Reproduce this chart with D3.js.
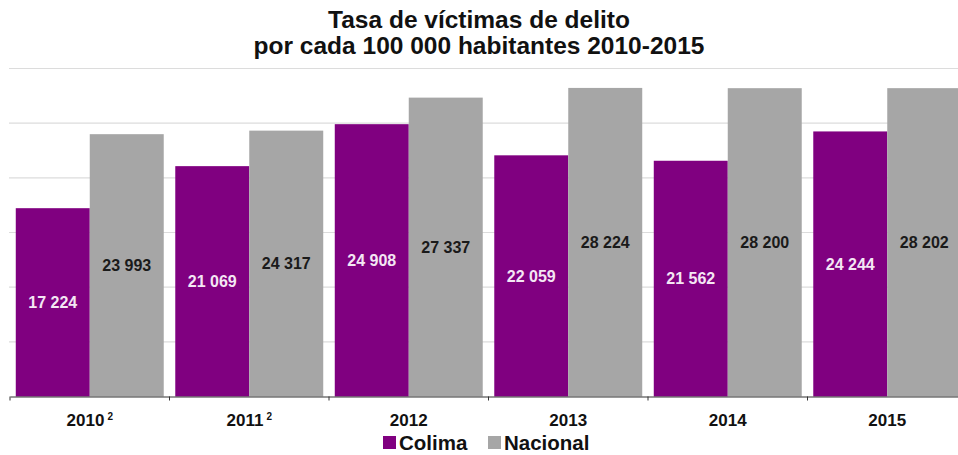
<!DOCTYPE html>
<html>
<head>
<meta charset="utf-8">
<script src="https://cdn.jsdelivr.net/npm/d3@7"></script>
<style>
	body { margin: 0 ; background: #fff ; overflow: hidden ; }
	svg { display: block ; font-family: "Liberation Sans", Arial, sans-serif ; }
</style>
</head>
<body>
<svg id="chart" width="958" height="455"></svg>
<script>

// chart data
const years = [ "2010", "2011", "2012", "2013", "2014", "2015" ] ;
const yearNotes = [ "2", "2", "", "", "", "" ] ;
const series = [ "Colima", "Nacional" ] ;
const colima = [ 17224, 21069, 24908, 22059, 21562, 24244 ] ;
const nacional = [ 23993, 24317, 27337, 28224, 28200, 28202 ] ;
const gridTicks = [ 0, 5000, 10000, 15000, 20000, 25000, 30000 ] ;

const colors = { Colima: "#800080", Nacional: "#a6a6a6" } ;
const labelColors = { Colima: "#f4e6f4", Nacional: "#1a1a1a" } ;

const svg = d3.select( "#chart" ) ;

// plot box - the right edge runs past the window, like the original
const plotLeft = 10, plotRight = 967, plotTop = 68.5, plotBottom = 396.5 ;

const x = d3.scaleBand()
	.domain( years )
	.range( [ plotLeft, plotRight ] )
	.paddingInner( 0 )
	.paddingOuter( 0 ) ;

const xs = d3.scaleBand()
	.domain( series )
	.range( [ 0, x.bandwidth() ] )
	.paddingOuter( 0.078 )
	.paddingInner( 0 ) ;

const y = d3.scaleLinear()
	.domain( [ 0, 30000 ] )
	.range( [ plotBottom, plotTop ] ) ;

// title
const titleLines = [ "Tasa de víctimas de delito", "por cada 100 000 habitantes 2010-2015" ] ;
svg.append( "g" )
	.selectAll( "text" )
	.data( titleLines )
	.enter().append( "text" )
		.attr( "x", 479 ).attr( "y", ( d, i ) => 28 + i * 26 )
		.attr( "text-anchor", "middle" )
		.style( "font-size", "24.5px" ).style( "font-weight", "bold" )
		.attr( "fill", "#111" )
		.text( d => d ) ;

// gridlines
svg.append( "g" )
	.selectAll( "line" )
	.data( gridTicks.filter( d => d > 0 ) )
	.enter().append( "line" )
		.attr( "x1", plotLeft - 1 ).attr( "x2", 958 )
		.attr( "y1", d => y(d) ).attr( "y2", d => y(d) )
		.attr( "stroke", "#dcdcdc" ).attr( "stroke-width", 1.2 ) ;

// bars
const rows = years.map( ( yr, i ) => ( { year: yr, values: [
	{ key: "Colima", value: colima[i] },
	{ key: "Nacional", value: nacional[i] } ] } ) ) ;

const groups = svg.append( "g" )
	.selectAll( "g" )
	.data( rows )
	.enter().append( "g" )
		.attr( "transform", d => "translate(" + x(d.year) + ",0)" ) ;

groups.selectAll( "rect" )
	.data( d => d.values )
	.enter().append( "rect" )
		.attr( "x", d => xs(d.key) )
		.attr( "width", xs.bandwidth() )
		.attr( "y", d => y(d.value) )
		.attr( "height", d => y(0) - y(d.value) )
		.attr( "fill", d => colors[d.key] ) ;

const fmt = v => d3.format( "," )( v ).replace( ",", " " ) ;

groups.selectAll( "text" )
	.data( d => d.values )
	.enter().append( "text" )
		.attr( "x", d => xs(d.key) + xs.bandwidth()/2 )
		.attr( "y", d => ( y(d.value) + y(0) ) / 2 )
		.attr( "dy", "0.36em" )
		.attr( "text-anchor", "middle" )
		.style( "font-size", "16px" ).style( "font-weight", "bold" )
		.attr( "fill", d => labelColors[d.key] )
		.text( d => fmt( d.value ) ) ;

// x axis
const xAxis = svg.append( "g" )
	.attr( "transform", "translate(0," + plotBottom + ")" )
	.call( d3.axisBottom( x ).tickSize( 0 ).tickFormat( "" ) ) ;
xAxis.select( ".domain" ).attr( "stroke", "#333" ).attr( "stroke-width", 1.2 ) ;

xAxis.selectAll( "line.sep" )
	.data( years.map( ( d, i ) => plotLeft + i * x.step() ) )
	.enter().append( "line" )
		.attr( "class", "sep" )
		.attr( "x1", d => d ).attr( "x2", d => d )
		.attr( "y1", 0 ).attr( "y2", 4 )
		.attr( "stroke", "#333" ) ;

const tickLabels = xAxis.selectAll( "text.yr" )
	.data( years )
	.enter().append( "text" )
		.attr( "class", "yr" )
		.attr( "x", d => x(d) + x.bandwidth()/2 )
		.attr( "y", 29 )
		.attr( "text-anchor", "middle" )
		.style( "font-size", "17px" ).style( "font-weight", "bold" )
		.attr( "fill", "#111" ) ;
tickLabels.append( "tspan" ).text( d => d ) ;
tickLabels.append( "tspan" )
	.attr( "dx", "3" ).attr( "dy", "-6" )
	.style( "font-size", "10px" )
	.text( ( d, i ) => yearNotes[i] ) ;

// legend
const legend = svg.append( "g" ).attr( "transform", "translate(0,443)" ) ;
const legendX = [ 383, 488 ] ;
series.forEach( ( s, i ) => {
	legend.append( "rect" )
		.attr( "x", legendX[i] ).attr( "y", -7 )
		.attr( "width", 13 ).attr( "height", 13 )
		.attr( "fill", colors[s] ) ;
	legend.append( "text" )
		.attr( "x", legendX[i] + 16 ).attr( "y", 0 )
		.attr( "dy", "0.36em" )
		.style( "font-size", "20.5px" ).style( "font-weight", "bold" )
		.attr( "fill", "#111" )
		.text( s ) ;
} ) ;

</script>
</body>
</html>
